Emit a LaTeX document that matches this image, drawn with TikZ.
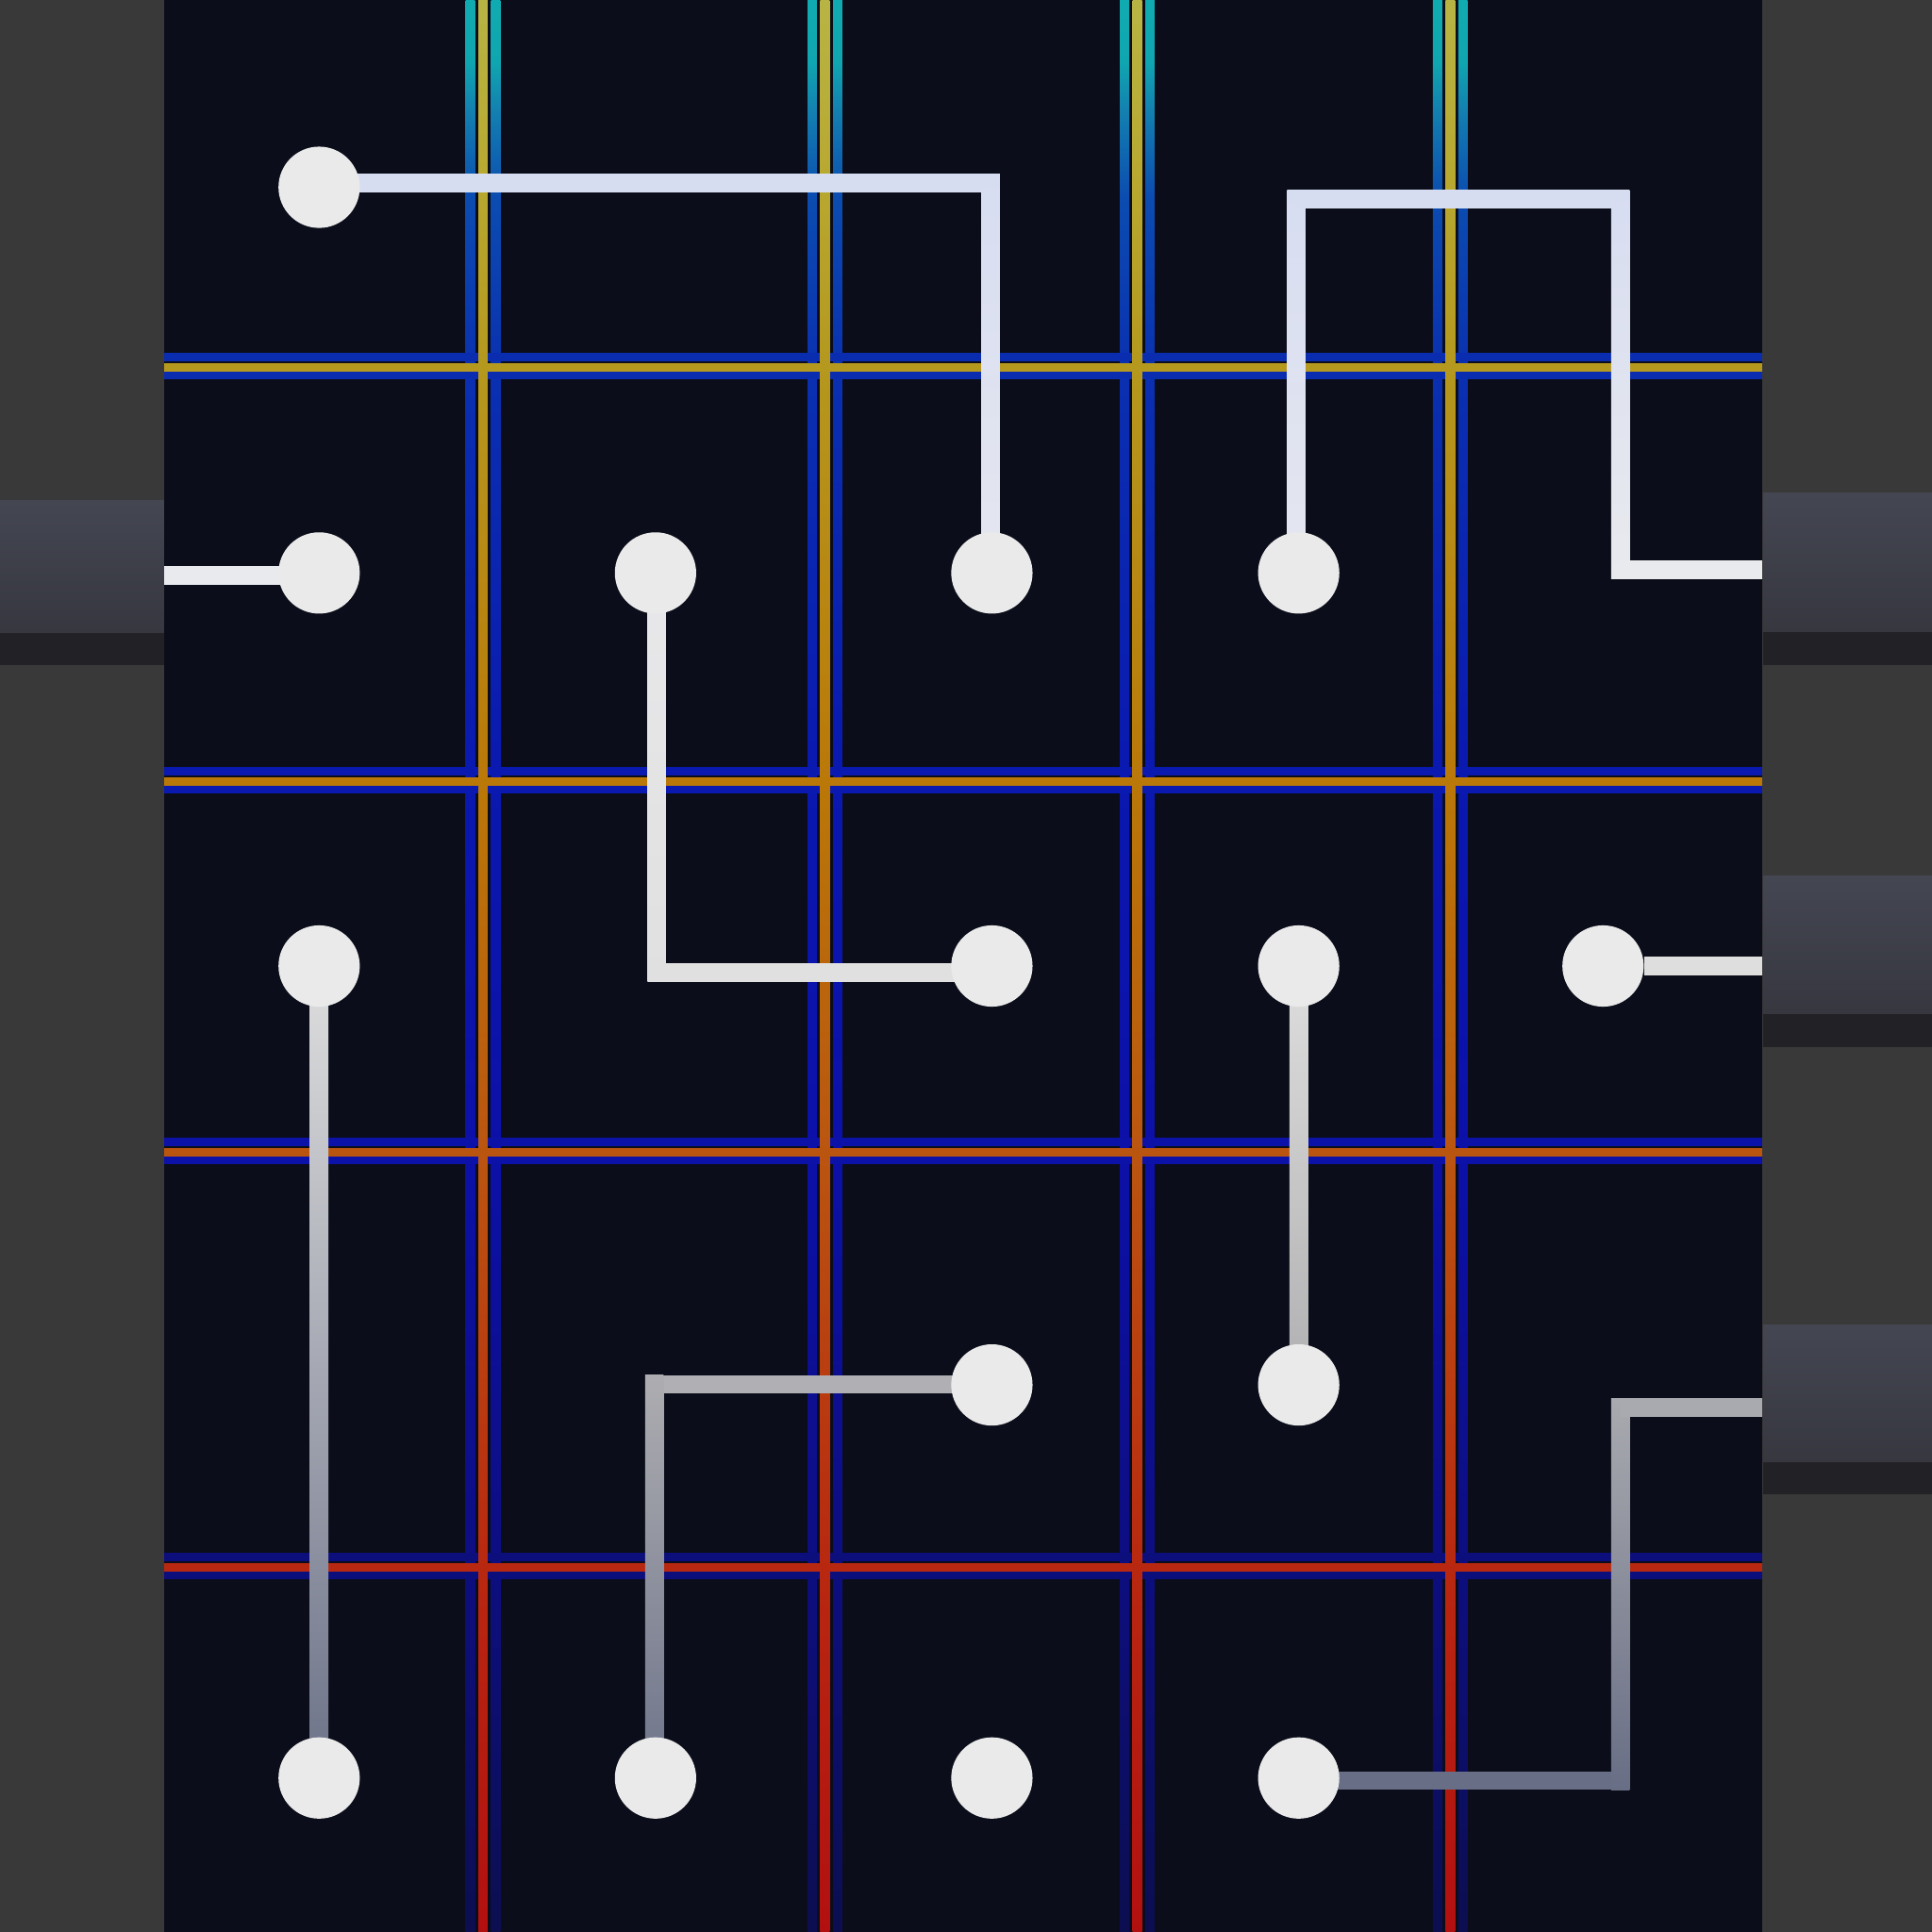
\documentclass[tikz,border=0pt]{standalone}
\usetikzlibrary{calc}
\definecolor{bg}{HTML}{393939}
\definecolor{panel}{HTML}{0B0E1A}
\definecolor{tabtop}{HTML}{444652}
\definecolor{tabbot}{HTML}{36373F}
\definecolor{tabdark}{HTML}{222226}
\definecolor{dotc}{HTML}{EAEAEA}
% vertical centre line stops (top to bottom)
\definecolor{vcA}{HTML}{B8B444}
\definecolor{vcB}{HTML}{B8A830}
\definecolor{vcC}{HTML}{B5981E}
\definecolor{vcD}{HTML}{BA7808}
\definecolor{vcE}{HTML}{BA5510}
\definecolor{vcF}{HTML}{B82810}
\definecolor{vcG}{HTML}{B21010}
% vertical outer line stops
\definecolor{voA}{HTML}{10ABB0}
\definecolor{voB}{HTML}{10A6B0}
\definecolor{voC}{HTML}{1380B0}
\definecolor{voD}{HTML}{0B4CB0}
\definecolor{voE}{HTML}{0A30B0}
\definecolor{voF}{HTML}{0A18B0}
\definecolor{voG}{HTML}{0C10A8}
\definecolor{voH}{HTML}{0D0E80}
\definecolor{voI}{HTML}{0C0E50}
% horizontal lines
\definecolor{hb1}{HTML}{0A2DB0}
\definecolor{hc1}{HTML}{B5981E}
\definecolor{hb2}{HTML}{0A1AB0}
\definecolor{hc2}{HTML}{BA7808}
\definecolor{hb3}{HTML}{0C12A8}
\definecolor{hc3}{HTML}{BA5510}
\definecolor{hb4}{HTML}{0C0E7C}
\definecolor{hc4}{HTML}{B82810}
% wires
\definecolor{wtop}{HTML}{D7DDF1}
\definecolor{wmid}{HTML}{E5E7F0}
\definecolor{wlite}{HTML}{E9EAEE}
\definecolor{w4t}{HTML}{E8E8EA}
\definecolor{w4b}{HTML}{E0E0E0}
\definecolor{w5}{HTML}{DEDEDE}
\definecolor{w6m}{HTML}{BEBEC0}
\definecolor{w6b}{HTML}{6C7288}
\definecolor{w7b}{HTML}{B0B0B2}
\definecolor{w8h}{HTML}{B0B0B4}
\definecolor{w8t}{HTML}{ADADB1}
\definecolor{w8b}{HTML}{6E748A}
\definecolor{w9t}{HTML}{A9AAAF}
\definecolor{w9b}{HTML}{686E85}
\pgfdeclareverticalshading{vcen}{100bp}{color(0bp)=(vcG); color(25bp)=(vcG); color(34.44bp)=(vcF); color(45.18bp)=(vcE); color(54.72bp)=(vcD); color(65.5bp)=(vcC); color(70.22bp)=(vcB); color(75bp)=(vcA); color(100bp)=(vcA)}
\pgfdeclareverticalshading{vout}{100bp}{color(0bp)=(voI); color(25bp)=(voI); color(34.44bp)=(voH); color(45.18bp)=(voG); color(54.72bp)=(voF); color(65.43bp)=(voE); color(69.9bp)=(voD); color(72.13bp)=(voC); color(73.41bp)=(voB); color(75bp)=(voA); color(100bp)=(voA)}
\pgfdeclarelayer{gridlayer}
\pgfdeclarelayer{wirelayer}
\pgfsetlayers{gridlayer,wirelayer,main}
\begin{document}
\begin{tikzpicture}[x=1pt,y=-1pt,
  dotn/.style={circle,fill=dotc,minimum size=66pt,inner sep=0pt,draw=none},
  wire/.style={line width=15pt,line cap=butt},
  tabshade/.style={top color=tabtop,bottom color=tabbot}]
\useasboundingbox (0,0) rectangle (1568,1568);
% dots
\node[dotn] (d11) at (259,152) {};
\node[dotn] (d21) at (259,465) {};
\node[dotn] (d22) at (532,465) {};
\node[dotn] (d23) at (805,465) {};
\node[dotn] (d24) at (1054,465) {};
\node[dotn] (d31) at (259,784) {};
\node[dotn] (d32) at (805,784) {};
\node[dotn] (d33) at (1054,784) {};
\node[dotn] (d34) at (1301,784) {};
\node[dotn] (d41) at (805,1124) {};
\node[dotn] (d42) at (1054,1124) {};
\node[dotn] (d51) at (259,1443) {};
\node[dotn] (d52) at (532,1443) {};
\node[dotn] (d53) at (805,1443) {};
\node[dotn] (d54) at (1054,1443) {};
% corners and free ends
\coordinate (c1) at (804,148.5);
\coordinate (e2) at (133,467);
\coordinate (c3a) at (1052,161.5);
\coordinate (c3b) at (1315,161.5);
\coordinate (c3c) at (1315,462.5);
\coordinate (e3) at (1430,462.5);
\coordinate (c4) at (533,789.5);
\coordinate (e5) at (1430,784);
\coordinate (c8) at (531,1123.5);
\coordinate (c9a) at (1315,1445);
\coordinate (c9b) at (1315,1142.5);
\coordinate (e9) at (1430,1142.5);

\begin{pgfonlayer}{gridlayer}
\fill[bg] (0,0) rectangle (1568,1568);
\fill[panel] (133,0) rectangle (1430,1568);
\shade[tabshade] (0,406) rectangle (133,514);
\fill[tabdark] (0,514) rectangle (133,540);
\foreach \a/\b/\c in {400/513/540, 711/823/850, 1075/1187/1213}{
  \shade[tabshade] (1431,\a) rectangle (1568,\b);
  \fill[tabdark] (1431,\b) rectangle (1568,\c);
}
\foreach \x in {392,669.5,923,1177}{
  \shade[shading=vout] (\x-14.05,0) rectangle (\x-6.55,1568);
  \shade[shading=vout] (\x+6.55,0) rectangle (\x+14.05,1568);
}
\foreach \y/\o in {298/hb1,634/hb2,935/hb3,1272/hb4}{
  \fill[\o] (133,\y-11.9) rectangle (1430,\y-4.9);
  \fill[\o] (133,\y+2.6) rectangle (1430,\y+9.6);
}
\foreach \x in {392,669.5,923,1177}{
  \shade[shading=vcen] (\x-3.8,0) rectangle (\x+3.8,1568);
}
\foreach \y/\c in {298/hc1,634/hc2,935/hc3,1272/hc4}{
  \fill[\c] (133,\y-3.5) rectangle (1430,\y+3.5);
}
\end{pgfonlayer}

\begin{pgfonlayer}{wirelayer}
% wire 1
\draw[wire,wtop] (d11 |- c1) -- (c1);
\shade[top color=wtop,bottom color=wmid] ($(c1)+(-7.5,-7.5)$) rectangle ($(c1 |- d23)+(7.5,0)$);
% wire 2
\draw[wire,wlite] (e2) -- (d21 |- e2);
% wire 3
\shade[top color=wtop,bottom color=wmid] ($(c3a)+(-7.5,-7.5)$) rectangle ($(c3a |- d24)+(7.5,0)$);
\draw[wire,wtop] (c3a) -- (c3b);
\shade[top color=wtop,bottom color=wlite] ($(c3b)+(-7.5,-7.5)$) rectangle ($(c3c)+(7.5,7.5)$);
\draw[wire,wlite] (c3c) -- (e3);
% wire 4
\shade[top color=w4t,bottom color=w4b] ($(c4 |- d22)+(-7.5,0)$) rectangle ($(c4)+(7.5,7.5)$);
\draw[wire,w4b] (c4) -- (d32 |- c4);
% wire 5
\draw[wire,w5] (d34) -- (e5);
% wire 6
\shade[top color=w5,middle color=w6m,bottom color=w6b] ($(d31)+(-7.5,0)$) rectangle ($(d51)+(7.5,0)$);
% wire 7
\shade[top color=w5,bottom color=w7b] ($(d33)+(-7.5,0)$) rectangle ($(d42)+(7.5,0)$);
% wire 8
\draw[wire,w8h] (c8) -- (d41 |- c8);
\shade[top color=w8t,bottom color=w8b] ($(c8)+(-7.5,-7.5)$) rectangle ($(c8 |- d52)+(7.5,0)$);
% wire 9
\draw[wire,w9b] (d54 |- c9a) -- (c9a);
\shade[top color=w9t,bottom color=w9b] ($(c9b)+(-7.5,-7.5)$) rectangle ($(c9a)+(7.5,7.5)$);
\draw[wire,w9t] (c9b) -- (e9);
\end{pgfonlayer}
\end{tikzpicture}
\end{document}
